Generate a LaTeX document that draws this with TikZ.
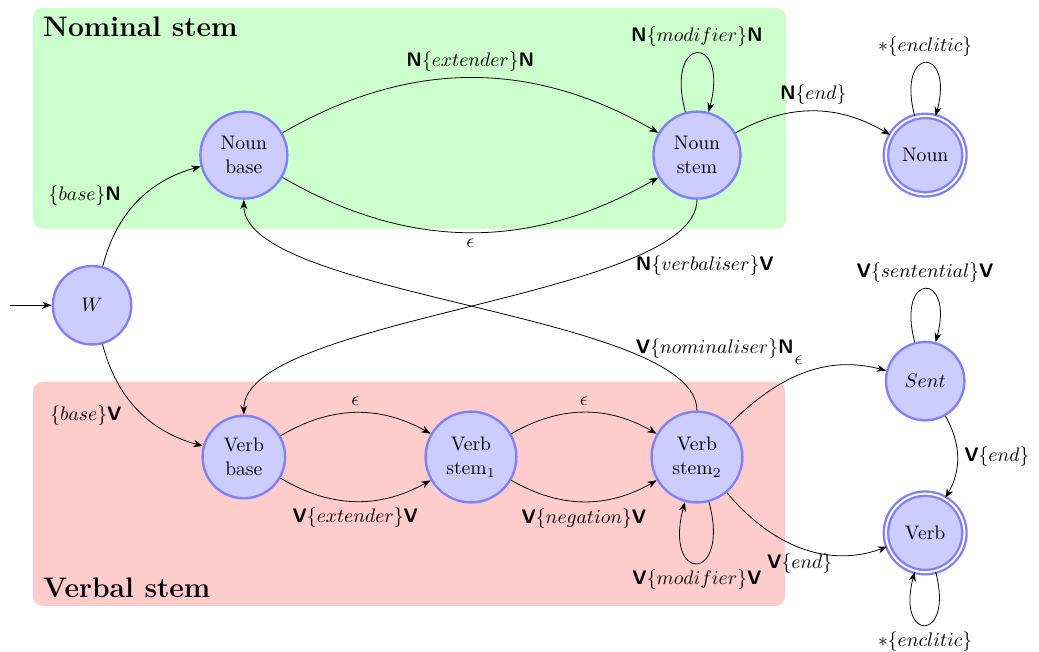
\documentclass[tikz,border=0pt]{standalone}
\usepackage{amsmath,amssymb}
\usepackage{tikz}
\usetikzlibrary{arrows.meta,automata}
\usepackage{xcolor}
\definecolor{StateFill}{HTML}{CCCCFF}
\definecolor{StateLine}{HTML}{8080FF}
\definecolor{NounZone}{HTML}{CCFFCC}
\definecolor{VerbZone}{HTML}{FFCCCC}
\newcommand{\Nb}{\textsf{\textbf{N}}}
\newcommand{\Vb}{\textsf{\textbf{V}}}

\begin{document}
\begin{tikzpicture}[>=Stealth,auto,
  every state/.style={draw=StateLine,fill=StateFill,very thick,
    minimum size=40pt,inner sep=5pt,align=center},
  final/.style={double,double distance=1pt},
  every loop/.style={looseness=9},
  zone/.style={rounded corners=5pt},
  zonetitle/.style={anchor=base west,font=\Large\bfseries}]
  \useasboundingbox (0,0) rectangle (18.62,-11.67);
  % the two stem regions
  \fill[zone,NounZone] (0.59,-0.14) rectangle (14.09,-4.10);
  \fill[zone,VerbZone] (0.59,-6.84) rectangle (14.07,-10.86);
  \node[zonetitle] (ntitle) at (0.65,-0.66) {Nominal stem};
  \node[zonetitle] (vtitle) at (0.65,-10.7) {Verbal stem};

  \node[state] (W)    at (1.65,-5.47)  {$W$};
  \node[state] (nb)   at (4.37,-2.78)  {Noun\\base};
  \node[state] (ns)   at (12.49,-2.78) {Noun\\stem};
  \node[state,final] (nf) at (16.58,-2.78) {Noun};
  \node[state] (vb)   at (4.37,-8.19)  {Verb\\base};
  \node[state] (vs1)  at (8.44,-8.19)  {Verb\\stem$_1$};
  \node[state] (vs2)  at (12.49,-8.19) {Verb\\stem$_2$};
  \node[state] (sent) at (16.58,-6.83) {$Sent$};
  \node[state,final] (vf) at (16.58,-9.55) {Verb};

  \coordinate (in) at (0.18,-5.47);
  \draw[->] (in) -- (W);

  \path[->]
    (W)    edge[bend left]  node[pos=0.4] {$\{base\}$\Nb} (nb)
           edge[bend right] node[pos=0.4,swap] {$\{base\}$\Vb} (vb)
    (nb)   edge[bend left]  node {\Nb$\{extender\}$\Nb} (ns)
           edge[bend right] node[swap] {$\epsilon$} (ns)
    (ns)   edge[loop above] node {\Nb$\{modifier\}$\Nb} ()
           edge[bend left]  node {\Nb$\{end\}$} (nf)
           edge[out=-90,in=90,looseness=0.5]
             node[pos=0.22,xshift=-6pt,yshift=3pt] {\Nb$\{verbaliser\}$\Vb} (vb)
    (nf)   edge[loop above] node {$*\{enclitic\}$} ()
    (vb)   edge[bend left]  node {$\epsilon$} (vs1)
           edge[bend right] node[swap] {\Vb$\{extender\}$\Vb} (vs1)
    (vs1)  edge[bend left]  node {$\epsilon$} (vs2)
           edge[bend right] node[swap] {\Vb$\{negation\}$\Vb} (vs2)
    (vs2)  edge[loop below] node {\Vb$\{modifier\}$\Vb} ()
           edge[out=90,in=-90,looseness=0.5]
             node[pos=0.22,swap,xshift=-6pt,yshift=-4.5pt] {\Vb$\{nominaliser\}$\Nb} (nb)
           edge[out=45,in=165] node[pos=0.55] {$\epsilon$} (sent)
           edge[out=-50,in=200] node[swap,anchor=north] {\Vb$\{end\}$} (vf)
    (sent) edge[loop above] node {\Vb$\{sentential\}$\Vb} ()
           edge[bend left]  node {\Vb$\{end\}$} (vf)
    (vf)   edge[loop below] node {$*\{enclitic\}$} ();
\end{tikzpicture}
\end{document}
